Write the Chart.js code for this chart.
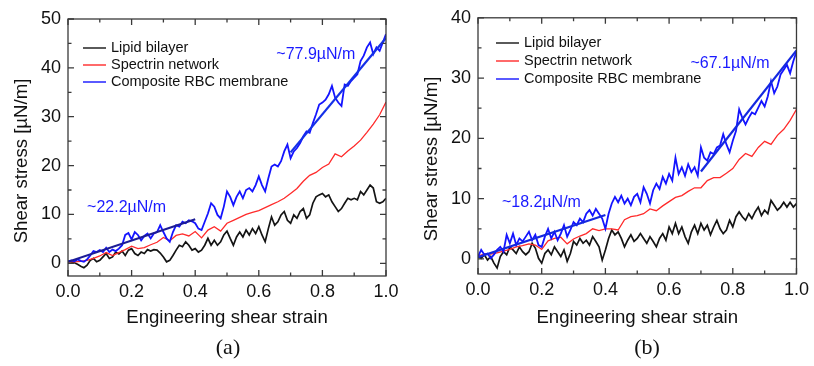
<!DOCTYPE html>
<html lang="en">
<head>
<meta charset="UTF-8" />
<title>Shear stress vs engineering shear strain</title>
<script src="https://cdn.jsdelivr.net/npm/chart.js"></script>
<style>
  * { margin: 0; padding: 0; box-sizing: border-box; }
  body {
    background: #fff;
    width: 814px;
    height: 366px;
    overflow: hidden;
    position: relative;
    font-family: 'Liberation Sans', Arial, sans-serif;
  }
  .panel { position: absolute; top: 0; height: 366px; }
  #panelA { left: 0; width: 410px; }
  #panelB { left: 410px; width: 404px; }
  .panel-tag {
    position: absolute;
    top: 336px;
    line-height: 1;
    font-family: 'Liberation Serif', 'Times New Roman', serif;
    font-size: 22px;
    color: #111;
    transform: translateX(-50%);
  }
</style>
</head>
<body>
  <div class="panel" id="panelA">
    <canvas id="chartA"></canvas>
    <div class="panel-tag" style="left:228px">(a)</div>
  </div>
  <div class="panel" id="panelB">
    <canvas id="chartB"></canvas>
    <div class="panel-tag" style="left:237px">(b)</div>
  </div>
<script>
// ---- data ----
// noisy curves sampled every 0.01, the smooth spectrin curve every 0.02
const strainFine = [0.00, 0.01, 0.02, 0.03, 0.04, 0.05, 0.06, 0.07, 0.08, 0.09,
                    0.10, 0.11, 0.12, 0.13, 0.14, 0.15, 0.16, 0.17, 0.18, 0.19,
                    0.20, 0.21, 0.22, 0.23, 0.24, 0.25, 0.26, 0.27, 0.28, 0.29,
                    0.30, 0.31, 0.32, 0.33, 0.34, 0.35, 0.36, 0.37, 0.38, 0.39,
                    0.40, 0.41, 0.42, 0.43, 0.44, 0.45, 0.46, 0.47, 0.48, 0.49,
                    0.50, 0.51, 0.52, 0.53, 0.54, 0.55, 0.56, 0.57, 0.58, 0.59,
                    0.60, 0.61, 0.62, 0.63, 0.64, 0.65, 0.66, 0.67, 0.68, 0.69,
                    0.70, 0.71, 0.72, 0.73, 0.74, 0.75, 0.76, 0.77, 0.78, 0.79,
                    0.80, 0.81, 0.82, 0.83, 0.84, 0.85, 0.86, 0.87, 0.88, 0.89,
                    0.90, 0.91, 0.92, 0.93, 0.94, 0.95, 0.96, 0.97, 0.98, 0.99, 1.00];
const strain = [0.00, 0.02, 0.04, 0.06, 0.08, 0.10, 0.12, 0.14, 0.16, 0.18,
                0.20, 0.22, 0.24, 0.26, 0.28, 0.30, 0.32, 0.34, 0.36, 0.38,
                0.40, 0.42, 0.44, 0.46, 0.48, 0.50, 0.52, 0.54, 0.56, 0.58,
                0.60, 0.62, 0.64, 0.66, 0.68, 0.70, 0.72, 0.74, 0.76, 0.78,
                0.80, 0.82, 0.84, 0.86, 0.88, 0.90, 0.92, 0.94, 0.96, 0.98, 1.00];

const seriesNames = ['Lipid bilayer', 'Spectrin network', 'Composite RBC membrane'];

// panel (a)
const lipidA = [0.4, 0.3, 0.1, -0.2, -0.6, -0.9, -0.4, 0.6, 1.0, 0.3,
                0.6, 1.3, 2.0, 1.0, 1.3, 2.3, 1.9, 2.5, 1.6, 2.7,
                3.0, 2.0, 1.6, 2.3, 2.0, 2.8, 2.5, 2.8, 2.7, 2.1,
                1.3, 0.3, 0.6, 1.6, 2.7, 3.7, 3.4, 4.4, 3.7, 2.7,
                3.0, 2.3, 2.7, 3.7, 5.1, 3.7, 4.7, 3.7, 4.4, 5.8,
                6.6, 5.1, 3.7, 5.4, 6.4, 5.4, 6.8, 5.8, 7.1, 6.1,
                7.5, 5.8, 4.4, 7.1, 9.5, 7.8, 8.5, 9.9, 10.6, 8.8,
                8.2, 9.9, 9.2, 10.6, 11.2, 9.2, 9.9, 12.3, 13.6, 14.0,
                14.3, 13.6, 14.0, 12.6, 11.6, 10.6, 11.2, 12.3, 13.3, 13.0,
                13.3, 13.0, 14.7, 14.0, 15.0, 16.0, 15.4, 12.6, 12.3, 12.6, 13.3];
const spectrinA = [0.3, 0.3, 0.4, 0.6, 1.0, 1.5, 2.2, 1.6, 2.2, 2.8,
                   3.5, 3.0, 3.2, 3.8, 4.3, 5.3, 4.6, 5.7, 6.0, 5.6,
                   6.5, 5.2, 6.8, 7.5, 6.6, 8.2, 8.8, 9.4, 10.0, 10.4,
                   10.8, 11.4, 12.0, 12.6, 13.3, 14.3, 15.3, 16.8, 18.0, 18.6,
                   19.6, 20.3, 22.4, 21.8, 23.0, 24.0, 25.2, 26.8, 28.5, 30.4, 33.0];
const compositeA = [0.4, 0.6, 0.4, 0.8, 0.5, 0.3, 0.8, 1.6, 2.5, 2.3,
                    2.7, 2.3, 3.2, 2.3, 2.8, 2.5, 3.0, 3.7, 5.8, 6.2,
                    4.9, 6.4, 5.8, 4.7, 5.6, 6.1, 5.1, 6.1, 6.4, 7.8,
                    6.4, 5.1, 4.4, 6.4, 7.8, 7.5, 8.5, 8.2, 8.8, 8.6,
                    8.2, 7.1, 6.8, 8.5, 10.2, 12.3, 11.6, 9.9, 9.2, 11.6,
                    14.7, 13.6, 11.9, 13.6, 14.7, 13.3, 15.0, 15.4, 14.7, 16.0,
                    17.8, 16.0, 14.7, 17.4, 19.8, 20.2, 19.8, 20.9, 22.9, 24.3,
                    21.5, 22.9, 23.6, 24.6, 26.0, 27.0, 26.7, 28.7, 30.5, 32.5,
                    32.9, 33.5, 34.6, 36.3, 33.9, 32.9, 32.2, 36.6, 36.3, 37.3,
                    38.0, 38.7, 41.4, 42.5, 44.2, 45.2, 42.8, 44.2, 43.5, 45.2, 46.9];
const fitStrain = [[0.0, 0.4], [0.7, 1.0]];
const fitA = [[0.3, 9.0], [22.7, 46.1]];
const slopeA = ['~22.2\u00B5N/m', '~77.9\u00B5N/m'];

// panel (b)
const lipidB = [0.4, 0.1, 0.7, -0.2, 0.4, -0.7, -1.5, 0.4, 1.2, 0.7,
                2.0, 1.5, 0.9, 2.0, 1.2, 0.7, 1.2, 2.6, 1.8, 0.1,
                -0.7, 0.9, 1.5, 0.7, 2.0, 1.2, 0.4, 1.5, -0.4, 0.9,
                2.9, 2.3, 3.4, 2.6, 3.1, 2.3, 3.7, 2.9, 2.0, -0.2,
                1.5, 3.4, 4.8, 4.0, 4.5, 3.4, 2.0, 3.1, 4.0, 2.9,
                3.4, 4.2, 3.4, 2.6, 3.7, 2.9, 2.0, 3.4, 4.2, 3.1,
                5.3, 4.2, 5.9, 4.2, 5.3, 3.7, 2.6, 4.5, 5.6, 4.2,
                5.9, 4.8, 5.6, 4.0, 5.3, 6.4, 5.0, 4.2, 4.8, 6.4,
                5.3, 7.0, 7.8, 7.0, 6.4, 7.5, 6.7, 7.8, 8.6, 7.2,
                8.1, 7.5, 9.7, 8.9, 8.1, 8.6, 9.4, 8.6, 9.4, 8.6, 9.2];
const spectrinB = [0.5, 0.8, 0.8, 1.0, 1.3, 1.6, 2.0, 2.2, 2.5, 2.3,
                   1.6, 3.0, 3.4, 3.6, 2.5, 3.3, 3.8, 4.2, 5.0, 4.7,
                   5.0, 5.0, 4.8, 6.5, 7.0, 7.2, 7.5, 8.3, 8.0, 8.8,
                   9.5, 10.2, 10.5, 11.2, 11.8, 11.8, 13.0, 13.5, 13.5, 14.2,
                   15.0, 16.5, 17.5, 17.0, 18.5, 19.5, 19.0, 20.5, 21.5, 23.0, 24.8];
const compositeB = [0.4, 1.5, 0.7, 0.9, 0.1, 0.7, 1.5, 2.0, 1.2, 4.0,
                    2.6, 4.2, 2.3, 3.4, 2.9, 3.7, 4.5, 3.1, 4.0, 2.3,
                    2.0, 3.7, 5.0, 3.4, 4.5, 3.1, 4.2, 5.6, 3.7, 4.8,
                    6.1, 5.6, 6.7, 6.1, 7.5, 8.1, 7.2, 8.3, 7.5, 6.7,
                    5.0, 7.5, 9.2, 10.3, 9.4, 10.5, 9.2, 10.0, 8.9, 10.3,
                    10.8, 9.4, 11.9, 10.8, 9.2, 11.4, 12.5, 11.6, 13.6, 12.5,
                    14.1, 13.0, 16.8, 14.1, 15.2, 13.8, 15.7, 14.4, 15.2, 13.8,
                    18.5, 16.8, 16.3, 17.7, 17.4, 18.5, 18.8, 20.7, 19.0, 17.7,
                    19.6, 21.2, 24.8, 23.4, 22.3, 23.4, 24.3, 24.0, 25.1, 26.2,
                    25.3, 27.0, 29.5, 27.5, 28.6, 30.6, 31.4, 32.2, 30.8, 32.8, 34.4];
const fitB = [[0.3, 7.3], [14.5, 34.6]];
const slopeB = ['~18.2\u00B5N/m', '~67.1\u00B5N/m'];

// axis ticks
const xTicks = [0, 0.2, 0.4, 0.6, 0.8, 1.0];
const xMinor = [0.1, 0.3, 0.5, 0.7, 0.9];
const yTicksA = [0, 10, 20, 30, 40, 50];
const yMinorA = [5, 15, 25, 35, 45];
const yTicksB = [0, 10, 20, 30, 40];
const yMinorB = [5, 15, 25, 35];

const colors = ['#141414', '#ff2a2a', '#1414ff'];
const FONT = "'Liberation Sans', Arial, sans-serif";

const pts = (xs, ys) => xs.map((x, i) => ({ x: x, y: ys[i] }));

// frame, inward ticks on all sides, legend, slope notes and axis titles
const decorPlugin = {
  id: 'decor',
  afterDatasetsDraw(chart, args, o) {
    const { ctx, chartArea: a, scales: { x, y } } = chart;
    ctx.save();
    ctx.strokeStyle = '#3a3a3a';
    ctx.lineWidth = 1.3;
    ctx.strokeRect(a.left, a.top, a.right - a.left, a.bottom - a.top);
    ctx.beginPath();
    const tx = (vals, len) => vals.forEach(v => {
      const px = x.getPixelForValue(v);
      ctx.moveTo(px, a.bottom); ctx.lineTo(px, a.bottom - len);
      ctx.moveTo(px, a.top); ctx.lineTo(px, a.top + len);
    });
    const ty = (vals, len) => vals.forEach(v => {
      const py = y.getPixelForValue(v);
      ctx.moveTo(a.left, py); ctx.lineTo(a.left + len, py);
      ctx.moveTo(a.right, py); ctx.lineTo(a.right - len, py);
    });
    tx(xTicks, 6); tx(xMinor, 3.5);
    ty(o.yTicks, 6); ty(o.yMinor, 3.5);
    ctx.stroke();

    // legend
    ctx.font = '14.5px ' + FONT;
    ctx.textBaseline = 'middle';
    ctx.textAlign = 'left';
    o.legendRows.forEach((ry, i) => {
      ctx.strokeStyle = colors[i];
      ctx.lineWidth = 1.4;
      ctx.beginPath();
      ctx.moveTo(o.legendX, ry); ctx.lineTo(o.legendX + 23, ry);
      ctx.stroke();
      ctx.fillStyle = '#111';
      ctx.fillText(seriesNames[i], o.legendX + 28, ry);
    });

    // slope notes
    ctx.font = '16px ' + FONT;
    ctx.fillStyle = '#1a1aff';
    o.notes.forEach(n => {
      ctx.fillText(n.text, x.getPixelForValue(n.at[0]), y.getPixelForValue(n.at[1]));
    });

    // axis titles
    ctx.fillStyle = '#111';
    ctx.font = '18.6px ' + FONT;
    ctx.textAlign = 'center';
    ctx.fillText('Engineering shear strain', (a.left + a.right) / 2, o.xTitleY);
    ctx.translate(o.yTitleX, o.yTitleY);
    ctx.rotate(-Math.PI / 2);
    ctx.fillText('Shear stress [\u00B5N/m]', 0, 0);
    ctx.restore();
  }
};

function makeChart(id, d) {
  const lineDs = (label, data, color, w) => ({
    label: label, data: data, borderColor: color, backgroundColor: color,
    borderWidth: w, pointRadius: 0, tension: 0, fill: false
  });
  return new Chart(document.getElementById(id), {
    type: 'line',
    data: {
      datasets: [
        lineDs('fit low', pts(fitStrain[0], d.fit[0]), d.fitColors[0], 2.2),
        lineDs('fit high', pts(fitStrain[1], d.fit[1]), d.fitColors[1], 2.2),
        lineDs(seriesNames[2], pts(strainFine, d.composite), colors[2], 1.8),
        lineDs(seriesNames[1], pts(strain, d.spectrin), colors[1], 1.3),
        lineDs(seriesNames[0], pts(strainFine, d.lipid), colors[0], 1.7)
      ]
    },
    options: {
      responsive: true,
      maintainAspectRatio: false,
      animation: false,
      layout: { padding: { top: d.top, right: d.right, left: 0, bottom: 0 } },
      plugins: {
        legend: { display: false },
        tooltip: { enabled: false },
        decor: {
          yTicks: d.yTicks, yMinor: d.yMinor,
          legendX: d.legendX, legendRows: d.legendRows,
          notes: d.notes,
          xTitleY: 318, yTitleX: 22, yTitleY: d.yTitleY
        }
      },
      scales: {
        x: {
          type: 'linear', min: 0, max: 1,
          grid: { display: false, drawTicks: false },
          border: { display: false },
          afterFit: s => { s.height = d.xHeight; },
          afterBuildTicks: s => { s.ticks = xTicks.map(v => ({ value: v })); },
          ticks: {
            padding: 5, color: '#111', maxRotation: 0,
            font: { family: FONT, size: 18 },
            callback: v => v.toFixed(1)
          }
        },
        y: {
          type: 'linear', min: d.yMin, max: d.yMax,
          grid: { display: false, drawTicks: false },
          border: { display: false },
          afterFit: s => { s.width = 68; },
          afterBuildTicks: s => { s.ticks = d.yTicks.map(v => ({ value: v })); },
          ticks: {
            padding: 7, color: '#111',
            font: { family: FONT, size: 18 },
            callback: v => String(v)
          }
        }
      }
    },
    plugins: [decorPlugin]
  });
}

makeChart('chartA', {
  lipid: lipidA, spectrin: spectrinA, composite: compositeA, fit: fitA,
  fitColors: ['#1c1c96', '#1430e8'],
  yMin: -2.6, yMax: 50, yTicks: yTicksA, yMinor: yMinorA,
  top: 19, right: 24, xHeight: 90,
  legendX: 83, legendRows: [48, 65, 82],
  notes: [{ text: slopeA[0], at: [0.06, 11.3] }, { text: slopeA[1], at: [0.655, 42.8] }],
  yTitleY: 161
});

makeChart('chartB', {
  lipid: lipidB, spectrin: spectrinB, composite: compositeB, fit: fitB,
  fitColors: ['#1428e0', '#1428e0'],
  yMin: -2.5, yMax: 40, yTicks: yTicksB, yMinor: yMinorB,
  top: 15, right: 15, xHeight: 92,
  legendX: 86, legendRows: [43, 61, 79],
  notes: [{ text: slopeB[0], at: [0.075, 9.4] }, { text: slopeB[1], at: [0.667, 32.4] }],
  yTitleY: 159
});
</script>
</body>
</html>
